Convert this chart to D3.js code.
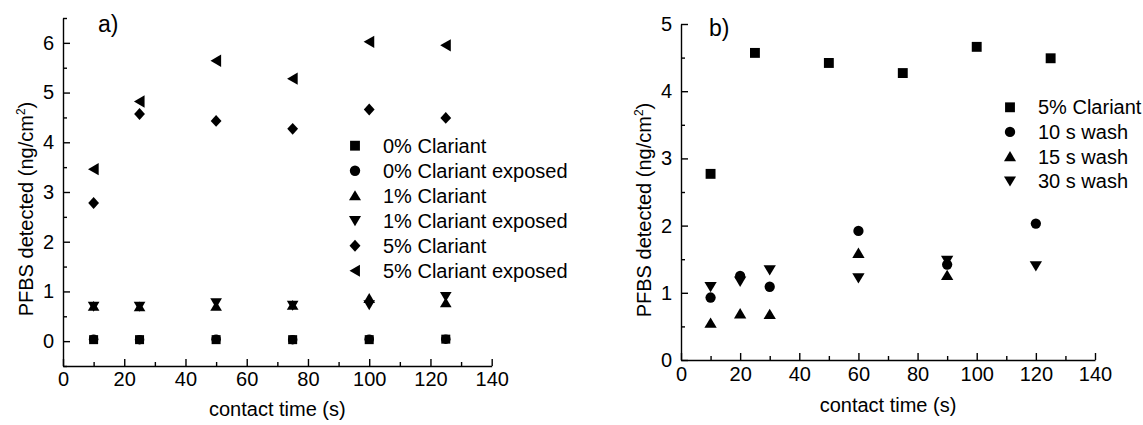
<!DOCTYPE html>
<html>
<head>
<meta charset="utf-8">
<script src="https://cdn.jsdelivr.net/npm/d3@7"></script>
<style>
  body { margin: 0; background: #fff; }
  svg text { font-family: "Liberation Sans", Arial, sans-serif; fill: #000; }
</style>
</head>
<body>
<svg id="chart" width="1143" height="425"></svg>
<script>
// ---- panel a data ----
const timeA = [10, 25, 50, 75, 100, 125];
const clariant0 = [0.03, 0.03, 0.03, 0.03, 0.03, 0.04];
const clariant0Exp = [0.04, 0.03, 0.04, 0.03, 0.04, 0.04];
const clariant1 = [0.70, 0.69, 0.70, 0.72, 0.86, 0.77];
const clariant1Exp = [0.70, 0.70, 0.77, 0.72, 0.73, 0.90];
const clariant5 = [2.78, 4.57, 4.43, 4.27, 4.66, 4.49];
const clariant5Exp = [3.46, 4.82, 5.64, 5.28, 6.02, 5.95];
const legendA = ["0% Clariant", "0% Clariant exposed", "1% Clariant", "1% Clariant exposed", "5% Clariant", "5% Clariant exposed"];

// ---- panel b data ----
const timeB = [10, 25, 50, 75, 100, 125];
const clariant5b = [2.77, 4.57, 4.42, 4.27, 4.66, 4.49];
const washTime = [10, 20, 30, 60, 90, 120];
const wash10 = [0.93, 1.25, 1.09, 1.92, 1.42, 2.03];
const wash15 = [0.55, 0.69, 0.68, 1.59, 1.26, null];
const wash30 = [1.09, 1.17, 1.34, 1.22, 1.48, 1.40];
const legendB = ["5% Clariant", "10 s wash", "15 s wash", "30 s wash"];

const xTicks = [0, 20, 40, 60, 80, 100, 120, 140];

// custom marker shapes, r = half size
const shape = fn => ({ draw(ctx, size) { fn(ctx, Math.sqrt(size)); } });
const poly = (ctx, pts) => { ctx.moveTo(pts[0][0], pts[0][1]); pts.slice(1).forEach(p => ctx.lineTo(p[0], p[1])); ctx.closePath(); };
const shapes = {
  square: shape((c, r) => { const s = r * 0.9; c.rect(-s, -s, 2 * s, 2 * s); }),
  circle: shape((c, r) => { c.moveTo(r * 0.95, 0); c.arc(0, 0, r * 0.95, 0, 2 * Math.PI); }),
  up: shape((c, r) => poly(c, [[0, -r], [r * 1.1, r * 0.85], [-r * 1.1, r * 0.85]])),
  down: shape((c, r) => poly(c, [[0, r], [r * 1.1, -r * 0.85], [-r * 1.1, -r * 0.85]])),
  diamond: shape((c, r) => poly(c, [[0, -r * 1.1], [r, 0], [0, r * 1.1], [-r, 0]])),
  left: shape((c, r) => poly(c, [[-r, 0], [r * 0.9, -r * 1.1], [r * 0.9, r * 1.1]]))
};

const fs = 20;
const svg = d3.select("#chart");
svg.append("rect").attr("width", 1143).attr("height", 425).attr("fill", "#fff");

function panel(cfg) {
  const x = d3.scaleLinear().domain([0, 140]).range(cfg.xr);
  const y = d3.scaleLinear().domain(cfg.yd).range(cfg.yr);
  const g = svg.append("g");

  // minor ticks
  g.append("g").attr("transform", `translate(0,${cfg.yr[0]})`)
    .call(d3.axisBottom(x).tickValues(d3.range(10, 140, 20)).tickSize(-4).tickFormat(""))
    .call(a => a.select(".domain").remove());
  g.append("g").attr("transform", `translate(${cfg.xr[0]},0)`)
    .call(d3.axisLeft(y).tickValues(cfg.yMinor).tickSize(-4).tickFormat(""))
    .call(a => a.select(".domain").remove());

  // major axes
  g.append("g").attr("transform", `translate(0,${cfg.yr[0]})`)
    .call(d3.axisBottom(x).tickValues(xTicks).tickFormat(d3.format("d"))
      .tickSize(-7).tickSizeOuter(0).tickPadding(cfg.xPad));
  g.append("g").attr("transform", `translate(${cfg.xr[0]},0)`)
    .call(d3.axisLeft(y).tickValues(cfg.yTicks).tickFormat(d3.format("d"))
      .tickSize(-7).tickSizeOuter(0).tickPadding(9));

  g.selectAll(".domain, .tick line").attr("stroke", "#000").attr("stroke-width", 1.4);
  g.selectAll("g").attr("font-size", fs).attr("font-family", null);

  // axis titles
  g.append("text")
    .attr("x", (cfg.xr[0] + cfg.xr[1]) / 2).attr("y", cfg.xTitleY)
    .attr("text-anchor", "middle").attr("font-size", fs)
    .text("contact time (s)");
  const yt = g.append("text")
    .attr("transform", `translate(${cfg.yTitleX},${cfg.yTitleY}) rotate(-90)`)
    .attr("text-anchor", "middle").attr("font-size", fs);
  yt.append("tspan").text("PFBS detected (ng/cm");
  yt.append("tspan").attr("font-size", 12).attr("dy", -8).text("2");
  yt.append("tspan").attr("dy", 8).text(")");

  g.append("text").attr("x", cfg.tag[0]).attr("y", cfg.tag[1])
    .attr("font-size", 23).text(cfg.tagText);

  // points
  const sym = d3.symbol();
  cfg.series.forEach(s => {
    g.append("g").selectAll("path")
      .data(s.xs.map((t, i) => [t, s.ys[i]]).filter(d => d[1] != null))
      .join("path")
      .attr("transform", d => `translate(${x(d[0])},${y(d[1])})`)
      .attr("d", sym.type(shapes[s.shape]).size(s.r * s.r)())
      .attr("fill", "#000");
  });

  // legend
  const lg = g.append("g");
  cfg.legend.forEach((label, i) => {
    const cy = cfg.legPos[1] + i * cfg.legStep;
    lg.append("path")
      .attr("transform", `translate(${cfg.legPos[0]},${cy})`)
      .attr("d", d3.symbol().type(shapes[cfg.series[i].shape]).size(30)())
      .attr("fill", "#000");
    lg.append("text").attr("x", cfg.legPos[0] + 28).attr("y", cy + 7)
      .attr("font-size", fs).text(label);
  });
}

panel({
  xr: [63, 491.7], yd: [-0.5, 6.5], yr: [366, 18],
  yTicks: d3.range(0, 7), yMinor: d3.range(-0.5, 7, 1),
  xPad: 6, xTitleY: 416, yTitleX: 33, yTitleY: 209,
  tag: [98, 32], tagText: "a)",
  legPos: [355, 145.7], legStep: 25, legend: legendA,
  series: [
    { xs: timeA, ys: clariant0, shape: "square", r: 5 },
    { xs: timeA, ys: clariant0Exp, shape: "circle", r: 5 },
    { xs: timeA, ys: clariant1, shape: "up", r: 5.3 },
    { xs: timeA, ys: clariant1Exp, shape: "down", r: 5.3 },
    { xs: timeA, ys: clariant5, shape: "diamond", r: 5.4 },
    { xs: timeA, ys: clariant5Exp, shape: "left", r: 5.6 }
  ]
});

panel({
  xr: [681, 1095], yd: [0, 5], yr: [360, 24],
  yTicks: d3.range(0, 6), yMinor: d3.range(0.5, 5, 1),
  xPad: 7, xTitleY: 412, yTitleX: 651, yTitleY: 210,
  tag: [709, 36], tagText: "b)",
  legPos: [1010, 107.3], legStep: 24.6, legend: legendB,
  series: [
    { xs: timeB, ys: clariant5b, shape: "square", r: 5.5 },
    { xs: washTime, ys: wash10, shape: "circle", r: 5.4 },
    { xs: washTime, ys: wash15, shape: "up", r: 5.6 },
    { xs: washTime, ys: wash30, shape: "down", r: 5.6 }
  ]
});
</script>
</body>
</html>
